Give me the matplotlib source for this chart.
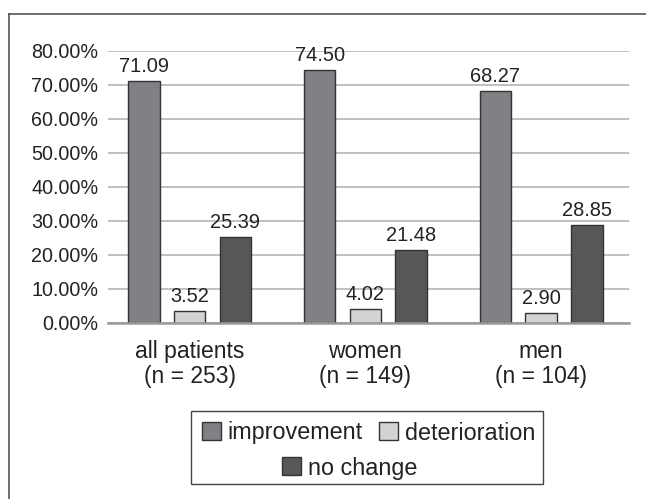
import matplotlib
matplotlib.use("Agg")
import matplotlib.pyplot as plt
from matplotlib.patches import Patch, Rectangle
from matplotlib.lines import Line2D
import numpy as np

plt.rcParams['font.family'] = ['Liberation Sans', 'DejaVu Sans']

categories = ["all patients\n(n = 253)", "women\n(n = 149)", "men\n(n = 104)"]
series_names = ["improvement", "deterioration", "no change"]
improvement = [71.09, 74.50, 68.27]
deterioration = [3.52, 4.02, 2.90]
no_change = [25.39, 21.48, 28.85]
y_ticks = [0, 10, 20, 30, 40, 50, 60, 70, 80]

colors = ["#808184", "#d3d3d3", "#565759"]
edge = "#333333"
txt = "#222222"

W, H = 646, 499
fig = plt.figure(figsize=(W / 100, H / 100), dpi=100)

x0, x1 = 108, 629
y_top, y_bot = 51, 323
ax = fig.add_axes([x0 / W, 1 - y_bot / H, (x1 - x0) / W, (y_bot - y_top) / H])

x = np.arange(len(categories))
width = 0.179
offsets = [-0.26, 0.0, 0.26]
all_series = [improvement, deterioration, no_change]
for vals, off, col in zip(all_series, offsets, colors):
    bars = ax.bar(x + off, vals, width, color=col, edgecolor=edge, linewidth=1.0, zorder=3)
    for b, v in zip(bars, vals):
        ax.annotate(f"{v:.2f}", (b.get_x() + b.get_width() / 2, v),
                    xytext=(0, 3.5), textcoords="offset points",
                    ha="center", va="bottom", fontsize=14.4, color=txt)

ax.set_xlim(-0.464, 2.50)
ax.set_ylim(0, 80)
ax.set_yticks(y_ticks)
ax.set_yticklabels([f"{t:.2f}%" for t in y_ticks], fontsize=14.2, color=txt)
ax.set_xticks(x)
ax.set_xticklabels(categories, fontsize=16.5, color=txt, linespacing=1.12)
ax.tick_params(axis="both", length=0)
ax.tick_params(axis="y", pad=7)
ax.tick_params(axis="x", pad=12)
ax.yaxis.grid(True, color="#b5b5b5", linewidth=1.2, zorder=0)
ax.set_axisbelow(True)
for s in ["top", "right", "left"]:
    ax.spines[s].set_visible(False)
ax.spines["bottom"].set_color("#9a9a9a")
ax.spines["bottom"].set_linewidth(1.8)
ax.spines["bottom"].set_zorder(4)

# legend: two entries in the first row, the third one in a second row
handles = [Patch(facecolor=c, edgecolor=edge, linewidth=1.0) for c in colors]
common = dict(frameon=False, fontsize=16.8, handlelength=0.82, handleheight=0.82,
              handletextpad=0.3, columnspacing=0.69, borderpad=0, borderaxespad=0)
leg1 = fig.legend(handles[:2], series_names[:2], ncol=2, loc="center",
                  bbox_to_anchor=(368.5 / W, 1 - 433 / H), **common)
leg2 = fig.legend(handles[2:], series_names[2:], ncol=1, loc="center",
                  bbox_to_anchor=(349.5 / W, 1 - 468 / H), **common)
for lg in (leg1, leg2):
    for t in lg.get_texts():
        t.set_color(txt)
fig.add_artist(Rectangle((191 / W, 1 - 484 / H), (543 - 191) / W, (484 - 411) / H,
                         transform=fig.transFigure, fill=False,
                         edgecolor="#444444", linewidth=1.0))

# outer frame
fig.add_artist(Line2D([9 / W, 1.0], [1 - 14 / H, 1 - 14 / H], transform=fig.transFigure,
                      color="#555555", linewidth=1.2))
fig.add_artist(Line2D([9 / W, 9 / W], [1 - 14 / H, 0.0], transform=fig.transFigure,
                      color="#555555", linewidth=1.2))

fig.savefig("out.png", dpi=100)
